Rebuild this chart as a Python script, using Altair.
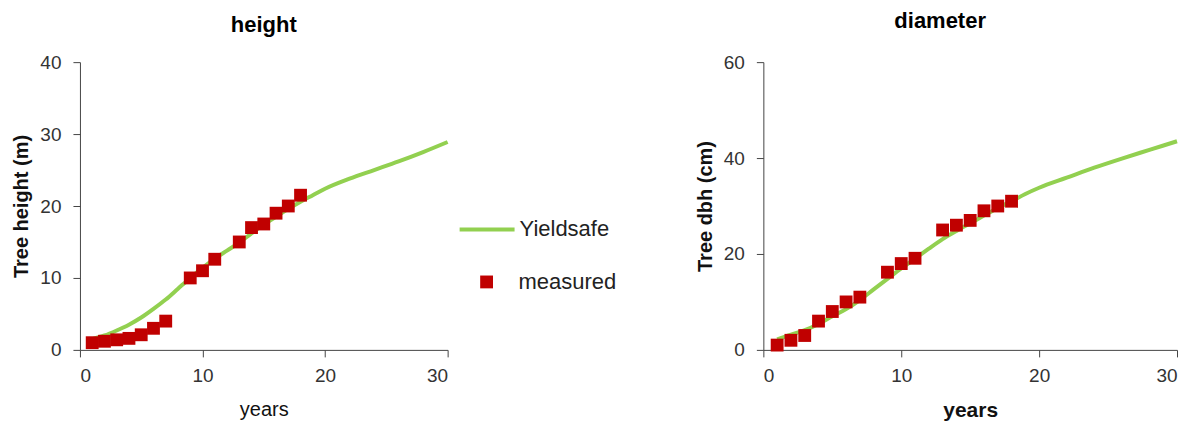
import altair as alt
import pandas as pd

# measured data
meas_years = [1, 2, 3, 4, 5, 6, 7, 9, 10, 11, 13, 14, 15, 16, 17, 18]
meas_height = [1.0, 1.2, 1.4, 1.6, 2.1, 3.0, 4.0, 10.0, 11.0, 12.6, 15.0, 17.0, 17.5, 19.0, 20.0, 21.5]
meas_dbh = [1.0, 2.0, 3.0, 6.0, 8.0, 10.0, 11.0, 16.2, 18.0, 19.1, 25.0, 26.0, 27.0, 29.0, 30.0, 31.0]

# Yieldsafe model curve
ys_years = [1, 2, 3, 4, 5, 6, 7, 8, 9, 10, 11, 12, 13, 14, 15, 16, 17, 18, 19, 20, 22, 24, 26, 28, 30]
ys_height = [1.5, 2.0, 2.7, 3.5, 4.5, 5.7, 7.0, 8.5, 10.0, 11.4, 12.7, 13.8, 14.9, 16.2, 17.4, 18.5, 19.6, 20.6, 21.5, 22.4, 23.8, 25.0, 26.2, 27.5, 28.9]
ys_dbh = [2.2, 3.2, 4.1, 5.4, 7.0, 8.5, 10.4, 12.6, 14.8, 17.0, 19.0, 21.1, 23.1, 24.8, 26.4, 28.0, 29.6, 31.0, 32.5, 33.8, 35.9, 38.0, 39.9, 41.7, 43.5]

GREEN = "#92D050"
RED = "#C00000"
FONT = "Liberation Sans"

meas_df = pd.DataFrame({"year": meas_years, "height": meas_height, "dbh": meas_dbh, "s": "measured"})
ys_df = pd.DataFrame({"year": ys_years, "height": ys_height, "dbh": ys_dbh, "series": "Yieldsafe"})

x_axis_left = alt.Axis(values=[0, 10, 20, 30], title="years", titleFontWeight="normal", titleFontSize=20, titlePadding=14)
x_axis_right = alt.Axis(values=[0, 10, 20, 30], title="years", titleFontWeight="bold", titleFontSize=21, titlePadding=14)

# left chart
line_l = alt.Chart(ys_df).mark_line(strokeWidth=4, interpolate="monotone").encode(
    x=alt.X("year:Q", scale=alt.Scale(domain=[0, 30], nice=False), axis=x_axis_left),
    y=alt.Y("height:Q", scale=alt.Scale(domain=[0, 40], nice=False),
            axis=alt.Axis(values=[0, 10, 20, 30, 40], title="Tree height (m)")),
    color=alt.Color("series:N", scale=alt.Scale(domain=["Yieldsafe"], range=[GREEN]),
                    legend=alt.Legend(title=None, orient="none", legendX=378, legendY=138,
                                      symbolType="stroke", symbolSize=3025, symbolStrokeWidth=4,
                                      labelFontSize=22, labelFont=FONT, labelColor="#222222", labelOffset=3)),
)
pts_l = alt.Chart(meas_df).mark_point(filled=True, size=165, opacity=1, color=RED).encode(
    x="year:Q",
    y="height:Q",
    shape=alt.Shape("s:N", scale=alt.Scale(domain=["measured"], range=["square"]),
                    legend=alt.Legend(title=None, orient="none", legendX=396, legendY=209,
                                      symbolSize=165, symbolFillColor=RED, symbolStrokeWidth=0,
                                      symbolOpacity=1,
                                      labelFontSize=22, labelFont=FONT, labelColor="#222222", labelOffset=21)),
)
left = alt.layer(line_l, pts_l).properties(
    width=368, height=288,
    title=alt.TitleParams("height", fontSize=22, fontWeight="bold", font=FONT, offset=16, frame="group", anchor="middle"),
)

# right chart
line_r = alt.Chart(ys_df).mark_line(strokeWidth=4, interpolate="monotone", color=GREEN).encode(
    x=alt.X("year:Q", scale=alt.Scale(domain=[0, 30], nice=False), axis=x_axis_right),
    y=alt.Y("dbh:Q", scale=alt.Scale(domain=[0, 60], nice=False),
            axis=alt.Axis(values=[0, 20, 40, 60], title="Tree  dbh (cm)")),
)
pts_r = alt.Chart(meas_df).mark_point(filled=True, size=165, opacity=1, color=RED, shape="square").encode(
    x="year:Q",
    y="dbh:Q",
)
right = alt.layer(line_r, pts_r).properties(
    width=414, height=288,
    title=alt.TitleParams("diameter", fontSize=22, fontWeight="bold", font=FONT, offset=20, frame="bounds", anchor="middle"),
)

chart = alt.hconcat(left, right, spacing=239).properties(
    padding={"left": 3, "top": 2, "right": 2, "bottom": 2}
).configure_view(stroke=None).configure_axis(
    labelFont=FONT, titleFont=FONT, labelFontSize=19, labelColor="#333333",
    titleFontSize=20, titleFontWeight="bold", titleColor="#111111",
    domainColor="#444444", tickColor="#444444", tickSize=7, grid=False,
).configure_axisX(labelPadding=10).configure_axisY(titlePadding=8, labelPadding=12)

chart.save("out.html", embed_options={"renderer": "svg", "actions": False})
